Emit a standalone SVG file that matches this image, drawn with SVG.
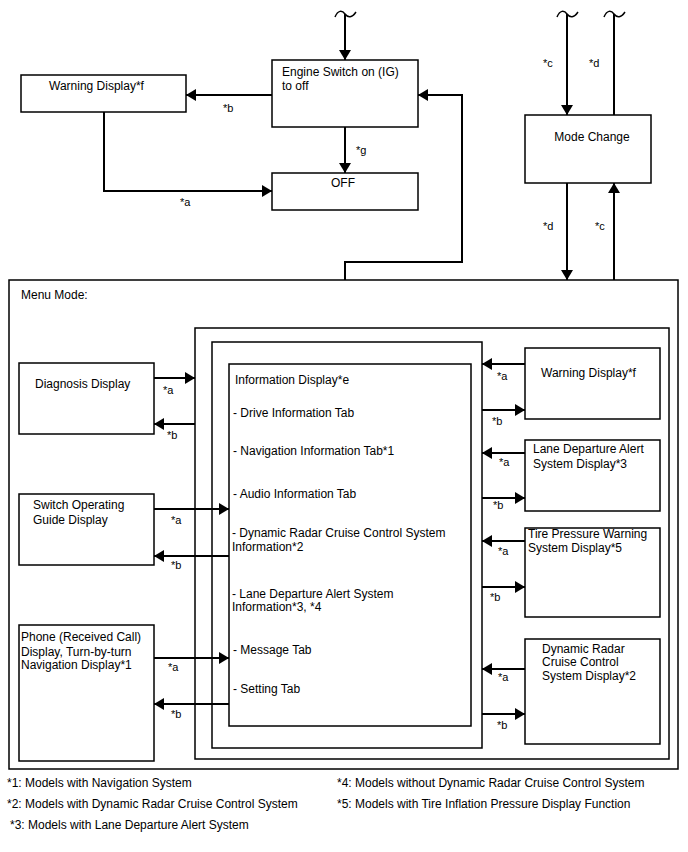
<svg xmlns="http://www.w3.org/2000/svg" width="688" height="852" viewBox="0 0 688 852">
<style>
  .box{fill:#fff;stroke:#000;stroke-width:1.5}
  .frame{fill:none;stroke:#000;stroke-width:1.5}
  .t{font-family:"Liberation Sans",Arial,sans-serif;font-size:12px;fill:#000}
  .l{font-family:"Liberation Sans",Arial,sans-serif;font-size:11px;fill:#000}
  .c{fill:none;stroke:#000;stroke-width:2}
  .a{marker-end:url(#ah)}
  .tl{fill:none;stroke:#000;stroke-width:1.5}
</style>
<defs>
  <marker id="ah" viewBox="0 0 10 12" refX="10" refY="6" markerWidth="10" markerHeight="12" markerUnits="userSpaceOnUse" orient="auto">
    <path d="M0,0 L10,6 L0,12 z" fill="#000"/>
  </marker>
</defs>
<rect width="688" height="852" fill="#fff"/>

<g id="menu-mode">
  <rect class="box" x="9" y="280" width="669" height="489"/>
  <text class="t" x="21" y="299">Menu Mode:</text>
</g>
<g id="frame-outer"><rect class="frame" x="195" y="328" width="474" height="431"/></g>
<g id="frame-inner"><rect class="frame" x="212" y="342" width="270" height="406"/></g>

<g id="warning-top">
  <rect class="box" x="21" y="75" width="165" height="37"/>
  <text class="t" x="49" y="90">Warning Display*f</text>
</g>
<g id="engine-switch">
  <rect class="box" x="272" y="60" width="146" height="67"/>
  <text class="t" x="282" y="76">Engine Switch on (IG)</text>
  <text class="t" x="282" y="90">to off</text>
</g>
<g id="off">
  <rect class="box" x="272" y="173" width="146" height="37"/>
  <text class="t" x="343" y="187" text-anchor="middle">OFF</text>
</g>
<g id="mode-change">
  <rect class="box" x="525" y="115" width="126" height="68"/>
  <text class="t" x="592" y="141" text-anchor="middle">Mode Change</text>
</g>

<g id="information-display">
  <rect class="box" x="229" y="364" width="242" height="362"/>
  <text class="t" x="235" y="384">Information Display*e</text>
  <text class="t" x="233" y="417">- Drive Information Tab</text>
  <text class="t" x="233" y="455">- Navigation Information Tab*1</text>
  <text class="t" x="233" y="497.5">- Audio Information Tab</text>
  <text class="t" x="232" y="536.5">- Dynamic Radar Cruise Control System</text>
  <text class="t" x="232" y="551">Information*2</text>
  <text class="t" x="232" y="597.5">- Lane Departure Alert System</text>
  <text class="t" x="232" y="611">Information*3, *4</text>
  <text class="t" x="233" y="654">- Message Tab</text>
  <text class="t" x="233" y="692.5">- Setting Tab</text>
</g>

<g id="diagnosis-display">
  <rect class="box" x="19" y="363" width="135" height="71"/>
  <text class="t" x="35" y="388">Diagnosis Display</text>
</g>
<g id="switch-operating-guide">
  <rect class="box" x="19" y="494" width="135" height="71"/>
  <text class="t" x="33" y="509">Switch Operating</text>
  <text class="t" x="33" y="524">Guide Display</text>
</g>
<g id="phone-display">
  <rect class="box" x="19" y="625" width="135" height="136"/>
  <text class="t" x="21" y="641">Phone (Received Call)</text>
  <text class="t" x="21" y="655.5">Display, Turn-by-turn</text>
  <text class="t" x="21" y="669">Navigation Display*1</text>
</g>

<g id="warning-right">
  <rect class="box" x="525" y="348" width="135" height="71"/>
  <text class="t" x="541" y="377">Warning Display*f</text>
</g>
<g id="lane-departure">
  <rect class="box" x="525" y="440" width="135" height="71"/>
  <text class="t" x="533" y="453">Lane Departure Alert</text>
  <text class="t" x="533" y="468">System Display*3</text>
</g>
<g id="tire-pressure">
  <rect class="box" x="525" y="528" width="135" height="89"/>
  <text class="t" x="528" y="538">Tire Pressure Warning</text>
  <text class="t" x="528" y="552">System Display*5</text>
</g>
<g id="dynamic-radar">
  <rect class="box" x="525" y="639" width="135" height="105"/>
  <text class="t" x="542" y="652.5">Dynamic Radar</text>
  <text class="t" x="542" y="666">Cruise Control</text>
  <text class="t" x="542" y="680">System Display*2</text>
</g>

<g id="connectors">
  <path class="tl" d="M335,17 C338,10 342,10 345,14 C348,18 352,18 356,12"/>
  <path class="c a" d="M345,14 V60"/>
  <path class="c a" d="M272,95 H186"/>
  <text class="l" x="223" y="112">*b</text>
  <path class="c a" d="M345,127 V173"/>
  <text class="l" x="356" y="154">*g</text>
  <path class="c a" d="M104,112 V191 H272"/>
  <text class="l" x="180" y="206">*a</text>
  <path class="c a" d="M345,280 V262 H462 V95 H418"/>

  <path class="tl" d="M557,17 C560,10 564,10 567,14 C570,18 574,18 578,12"/>
  <path class="c a" d="M567,14 V115"/>
  <text class="l" x="543" y="67">*c</text>
  <path class="tl" d="M604,17 C607,10 611,10 614,14 C617,18 621,18 625,12"/>
  <path class="c" d="M614,14 V115"/>
  <text class="l" x="589" y="67">*d</text>
  <path class="c a" d="M567,183 V280"/>
  <text class="l" x="543" y="230">*d</text>
  <path class="c a" d="M614,280 V183"/>
  <text class="l" x="595" y="230">*c</text>

  <path class="c a" d="M154,378 H195"/>
  <text class="l" x="163" y="394">*a</text>
  <path class="c a" d="M195,424 H154"/>
  <text class="l" x="167" y="439">*b</text>
  <path class="c a" d="M154,509 H229"/>
  <text class="l" x="171" y="524">*a</text>
  <path class="c a" d="M229,556 H154"/>
  <text class="l" x="171" y="569">*b</text>
  <path class="c a" d="M154,658 H229"/>
  <text class="l" x="168" y="671">*a</text>
  <path class="c a" d="M229,704 H154"/>
  <text class="l" x="171" y="718">*b</text>

  <path class="c a" d="M525,364 H482"/>
  <text class="l" x="497" y="380">*a</text>
  <path class="c a" d="M482,410 H525"/>
  <text class="l" x="492" y="425">*b</text>
  <path class="c a" d="M525,453 H482"/>
  <text class="l" x="499" y="466">*a</text>
  <path class="c a" d="M482,498 H525"/>
  <text class="l" x="493" y="509">*b</text>
  <path class="c a" d="M525,541 H482"/>
  <text class="l" x="498" y="555">*a</text>
  <path class="c a" d="M482,587 H525"/>
  <text class="l" x="490" y="601">*b</text>
  <path class="c a" d="M525,669 H482"/>
  <text class="l" x="498" y="681">*a</text>
  <path class="c a" d="M482,714 H525"/>
  <text class="l" x="497" y="729">*b</text>
</g>

<g id="footnotes">
  <text class="t" x="7" y="787">*1: Models with Navigation System</text>
  <text class="t" x="7" y="808">*2: Models with Dynamic Radar Cruise Control System</text>
  <text class="t" x="10" y="829">*3: Models with Lane Departure Alert System</text>
  <text class="t" x="337" y="787">*4: Models without Dynamic Radar Cruise Control System</text>
  <text class="t" x="337" y="808">*5: Models with Tire Inflation Pressure Display Function</text>
</g>
</svg>
